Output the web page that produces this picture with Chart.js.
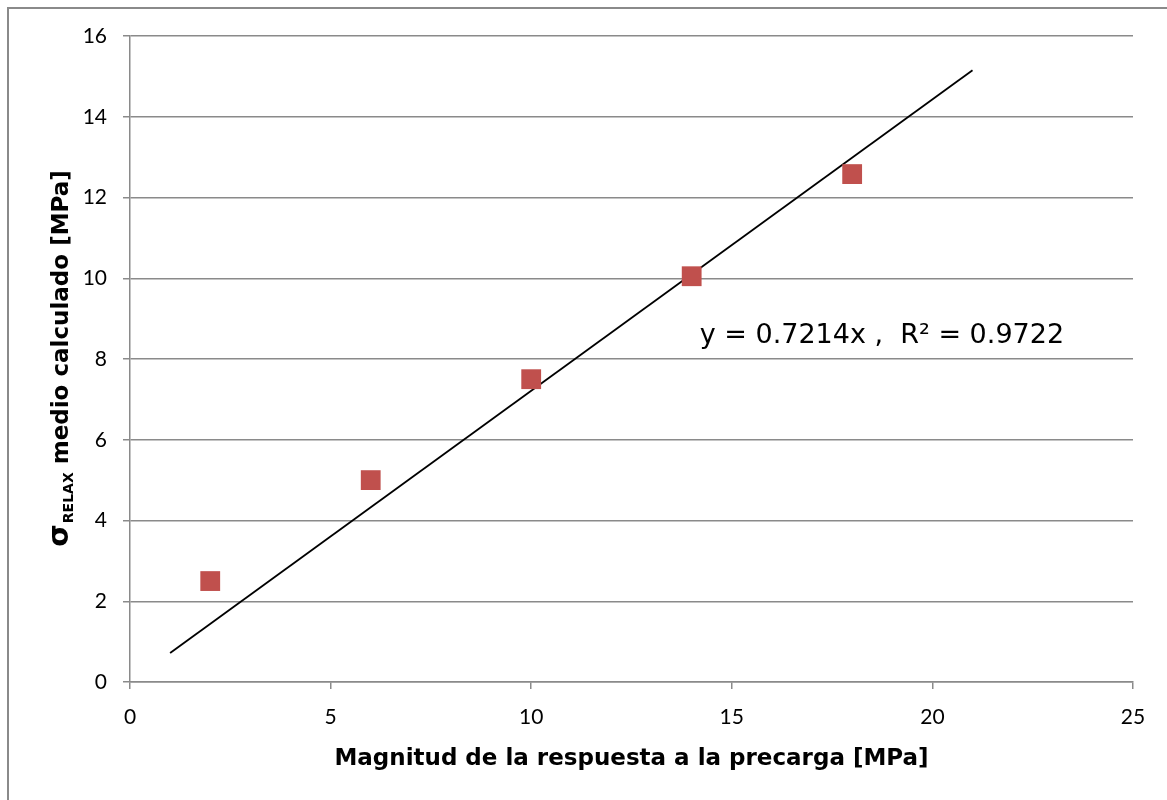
<!DOCTYPE html>
<html>
<head>
<meta charset="utf-8">
<script src="https://cdn.jsdelivr.net/npm/chart.js@4.4.1/dist/chart.umd.min.js"></script>
<style>
  html, body { margin: 0; padding: 0; background: #fff; }
</style>
</head>
<body>
<canvas id="chart" width="1167" height="800"></canvas>
<script>
const precarga = [2, 6, 10, 14, 18];
const sigmaRelax = [2.5, 5.0, 7.5, 10.05, 12.58];

// linear trendline ends
const trendX = [1, 21];
const trendY = [0.72, 15.15];

const xTicks = [0, 5, 10, 15, 20, 25];
const yTicks = [0, 2, 4, 6, 8, 10, 12, 14, 16];

const eqText = 'y = 0.7214x ,  R\u00B2 = 0.9722';
const xTitle = 'Magnitud de la respuesta a la precarga [MPa]';

const titleFont = '"DejaVu Sans", sans-serif';
const tickFont = 'Lato, "Open Sans", sans-serif';
const gridColor = '#8a8a8a';

// frame around the chart + custom y title with subscript + equation label
const extras = {
  id: 'extras',
  beforeDraw(chart) {
    const ctx = chart.ctx;
    ctx.save();
    ctx.strokeStyle = '#8a8a8a';
    ctx.lineWidth = 2;
    ctx.strokeRect(8, 8, 1300, 1000);
    ctx.restore();
  },
  afterDraw(chart) {
    const ctx = chart.ctx;
    const xs = chart.scales.x, ys = chart.scales.y;

    // y axis title: σ_RELAX medio calculado [MPa]
    ctx.save();
    ctx.translate(68, 359);
    ctx.rotate(-Math.PI / 2);
    ctx.fillStyle = '#000';
    ctx.textBaseline = 'alphabetic';
    const f1 = 'bold 29px ' + titleFont;
    const f2 = 'bold 14px ' + titleFont;
    const f3 = 'bold 23px ' + titleFont;
    const rest = ' medio calculado [MPa]';
    ctx.font = f1; const w1 = ctx.measureText('\u03C3').width;
    ctx.font = f2; const w2 = ctx.measureText('RELAX').width;
    ctx.font = f3; const w3 = ctx.measureText(rest).width;
    let x0 = -(w1 + w2 + w3) / 2;
    ctx.font = f1; ctx.fillText('\u03C3', x0, 0);
    ctx.font = f2; ctx.fillText('RELAX', x0 + w1 + 1, 5);
    ctx.font = f3; ctx.fillText(rest, x0 + w1 + w2 + 1, 0);
    ctx.restore();

    // regression equation
    ctx.save();
    ctx.fillStyle = '#000';
    ctx.font = '27px ' + titleFont;
    ctx.textBaseline = 'alphabetic';
    ctx.fillText(eqText, xs.getPixelForValue(14.2), ys.getPixelForValue(8.4));
    ctx.restore();
  }
};

new Chart(document.getElementById('chart'), {
  type: 'scatter',
  data: {
    datasets: [
      {
        label: 'datos',
        data: precarga.map((x, i) => ({ x: x, y: sigmaRelax[i] })),
        pointStyle: 'rect',
        pointRadius: 14,
        pointHoverRadius: 14,
        backgroundColor: '#c0504d',
        borderColor: '#c0504d',
        borderWidth: 0,
        order: 1
      },
      {
        label: 'tendencia',
        type: 'line',
        data: trendX.map((x, i) => ({ x: x, y: trendY[i] })),
        borderColor: '#000',
        borderWidth: 1.8,
        pointRadius: 0,
        fill: false,
        order: 2
      }
    ]
  },
  options: {
    responsive: false,
    animation: false,
    devicePixelRatio: 1,
    layout: { padding: { left: 0, right: 34, top: 36, bottom: 0 } },
    plugins: {
      legend: { display: false },
      tooltip: { enabled: false }
    },
    scales: {
      x: {
        type: 'linear',
        min: 0, max: 25,
        afterBuildTicks: s => { s.ticks = xTicks.map(v => ({ value: v })); },
        afterFit: s => { s.height = 118; },
        grid: { drawOnChartArea: false, drawTicks: true, tickLength: 7, color: gridColor, lineWidth: 1.5 },
        border: { display: true, color: gridColor, width: 1.5 },
        ticks: { color: '#000', font: { family: tickFont, size: 21 }, padding: 16 },
        title: {
          display: true,
          text: xTitle,
          color: '#000',
          font: { family: titleFont, size: 23, weight: 'bold' },
          padding: { top: 10, bottom: 27 }
        }
      },
      y: {
        type: 'linear',
        min: 0, max: 16,
        afterBuildTicks: s => { s.ticks = yTicks.map(v => ({ value: v })); },
        afterFit: s => { s.width = 130; },
        grid: { color: gridColor, lineWidth: 1.5, tickLength: 7 },
        border: { display: true, color: gridColor, width: 1.5 },
        ticks: { color: '#000', font: { family: tickFont, size: 21 }, padding: 16 }
      }
    }
  },
  plugins: [extras]
});
</script>
</body>
</html>
